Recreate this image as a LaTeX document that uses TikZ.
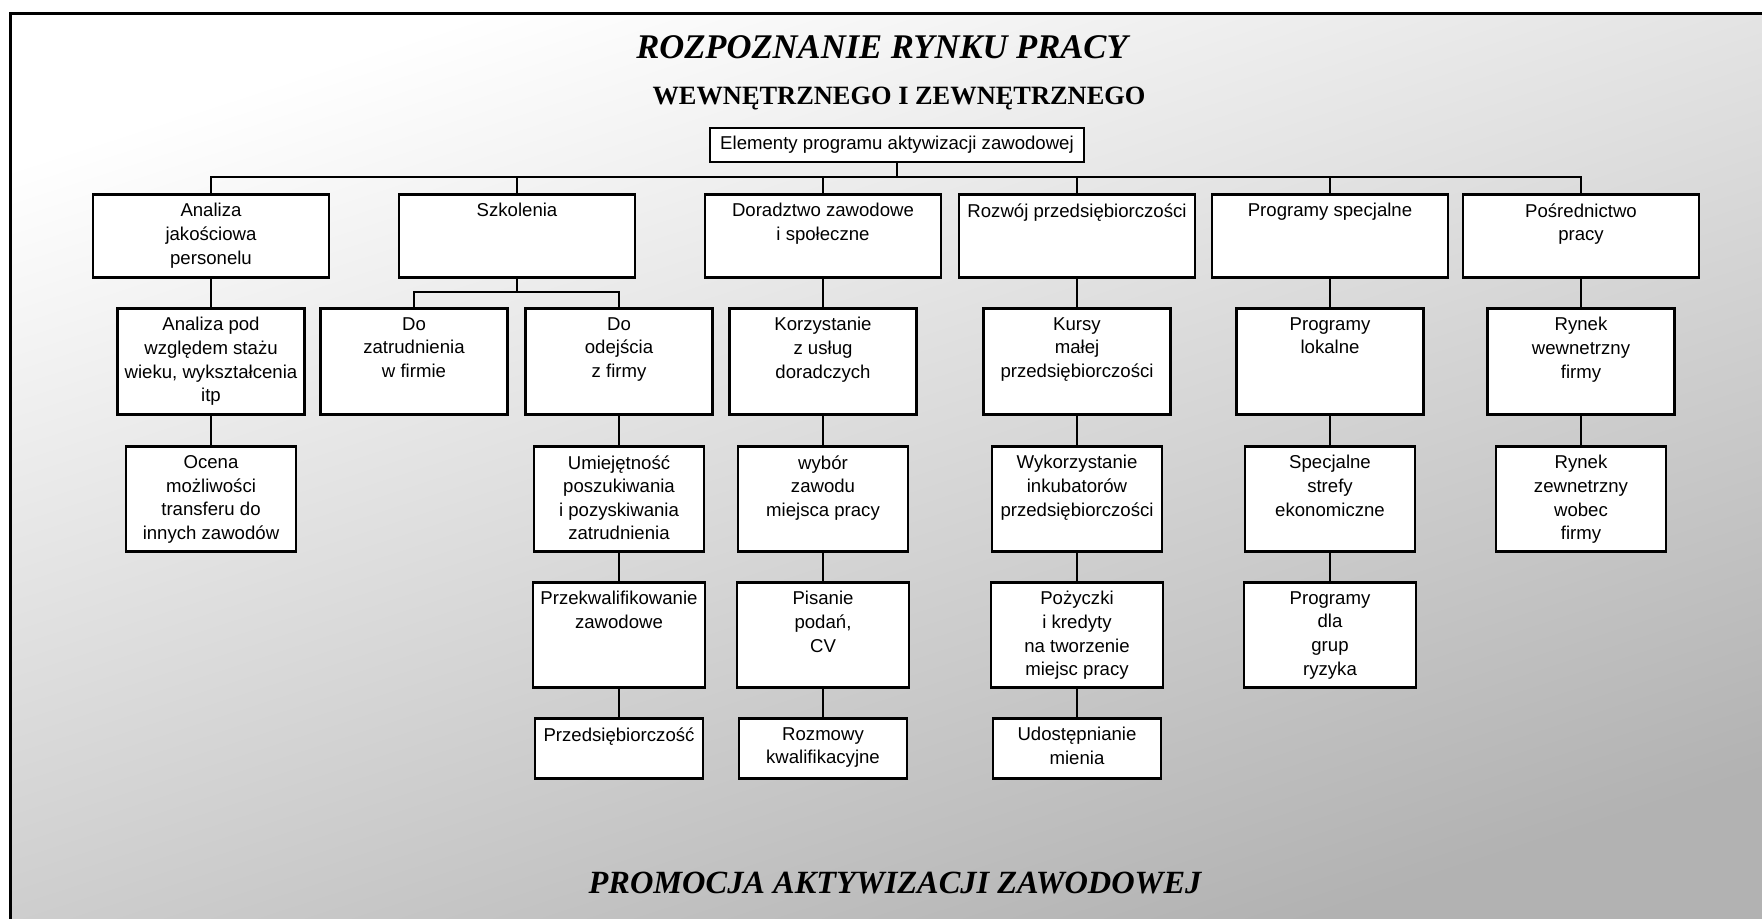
\documentclass[tikz,border=0pt]{standalone}
\usepackage{fontspec}
\setmainfont{Liberation Serif}
\newfontfamily\boxfont{Liberation Sans}
\usetikzlibrary{positioning}
\tikzset{
  main box/.style={draw,line width=1.3pt,fill=white,anchor=north,inner sep=0pt,
    minimum width=118pt,minimum height=41.5pt,label={[txt]north:#1}},
  sub box/.style={main box={#1},minimum width=93.5pt,minimum height=53pt},
  item box/.style={main box={#1},minimum width=85pt,minimum height=52.5pt},
  low box/.style={main box={#1},minimum width=86pt,minimum height=52.5pt},
  small box/.style={main box={#1},minimum width=84pt,minimum height=30pt},
  txt/.style={anchor=north,align=center,inner sep=0pt,yshift=-5pt,
    font=\boxfont\fontsize{9.3}{11.8}\selectfont},
  title/.style={inner sep=0pt,font=\fontsize{#1}{#1}\selectfont\bfseries\itshape},
  link/.style={line width=1pt},
}
\begin{document}
\begin{tikzpicture}[x=0.5pt,y=-0.5pt]
  \useasboundingbox (0,0) rectangle (1762,918);
  \fill[white] (0,0) rectangle (1762,918);
  \shade[top color=white,middle color=black!5,bottom color=black!30,shading angle=18]
    (10,13) rectangle (1762,918);
  \draw[line width=1.5pt] (10,940) -- (10,13) -- (1790,13);

  % titles
  \node[title=17.3,anchor=base] (head) at (882,58) {ROZPOZNANIE RYNKU PRACY};
  \node[inner sep=0pt,font=\fontsize{13.2}{13.2}\selectfont\bfseries,anchor=base] (subhead) at (899,104) {WEWNĘTRZNEGO I ZEWNĘTRZNEGO};
  \node[title=16.2,anchor=base] (foot) at (895,893) {PROMOCJA AKTYWIZACJI ZAWODOWEJ};

  \node[draw,line width=1.3pt,fill=white,inner sep=0pt,minimum width=187pt,minimum height=17pt,
    font=\boxfont\fontsize{9.3}{11.8}\selectfont] (root) at (897,145) {Elementy programu aktywizacji zawodowej};

  % first level
  \node[main box={Analiza\\jakościowa\\personelu}] (ana) at (211,193) {};
  \node[main box={Szkolenia}] (szk) at (517,193) {};
  \node[main box={Doradztwo zawodowe\\i społeczne}] (dor) at (823,193) {};
  \node[main box={Rozwój przedsiębiorczości}] (roz) at (1077,193) {};
  \node[main box={Programy specjalne}] (spec) at (1330,193) {};
  \node[main box={Pośrednictwo\\pracy}] (posr) at (1581,193) {};

  % second level
  \node[sub box={Analiza pod\\względem stażu\\wieku, wykształcenia\\itp}] (wiek) at (211,307) {};
  \node[sub box={Do\\zatrudnienia\\w firmie}] (zatr) at (414,307) {};
  \node[sub box={Do\\odejścia\\z firmy}] (odej) at (619,307) {};
  \node[sub box={Korzystanie\\z usług\\doradczych}] (korz) at (823,307) {};
  \node[sub box={Kursy\\małej\\przedsiębiorczości}] (kurs) at (1077,307) {};
  \node[sub box={Programy\\lokalne}] (lok) at (1330,307) {};
  \node[sub box={Rynek\\wewnetrzny\\firmy}] (wewn) at (1581,307) {};

  % third level
  \node[item box={Ocena\\możliwości\\transferu do\\innych zawodów}] (ocena) at (211,445) {};
  \node[item box={Umiejętność\\poszukiwania\\i pozyskiwania\\zatrudnienia}] (umiej) at (619,445) {};
  \node[item box={wybór\\zawodu\\miejsca pracy}] (wybor) at (823,445) {};
  \node[item box={Wykorzystanie\\inkubatorów\\przedsiębiorczości}] (inkub) at (1077,445) {};
  \node[item box={Specjalne\\strefy\\ekonomiczne}] (strefy) at (1330,445) {};
  \node[item box={Rynek\\zewnetrzny\\wobec\\firmy}] (zewn) at (1581,445) {};

  % fourth level
  \node[low box={Przekwalifikowanie\\zawodowe}] (przekw) at (619,581) {};
  \node[low box={Pisanie\\podań,\\CV}] (pisanie) at (823,581) {};
  \node[low box={Pożyczki\\i kredyty\\na tworzenie\\miejsc pracy}] (pozycz) at (1077,581) {};
  \node[low box={Programy\\dla\\grup\\ryzyka}] (ryzyko) at (1330,581) {};

  % fifth level
  \node[small box={Przedsiębiorczość}] (przeds) at (619,717) {};
  \node[small box={Rozmowy\\kwalifikacyjne}] (rozmowy) at (823,717) {};
  \node[small box={Udostępnianie\\mienia}] (mienie) at (1077,717) {};

  % connectors
  \coordinate (bus) at (897,177);
  \foreach \n in {ana,szk,dor,roz,spec,posr}
    \draw[link] (root.south) -- (bus) -| (\n.north);
  \coordinate (szkbus) at (517,292);
  \foreach \n in {zatr,odej}
    \draw[link] (szk.south) -- (szkbus) -| (\n.north);
  \foreach \a/\b in {ana/wiek,wiek/ocena,odej/umiej,umiej/przekw,przekw/przeds,
      dor/korz,korz/wybor,wybor/pisanie,pisanie/rozmowy,
      roz/kurs,kurs/inkub,inkub/pozycz,pozycz/mienie,
      spec/lok,lok/strefy,strefy/ryzyko,posr/wewn,wewn/zewn}
    \draw[link] (\a.south) -- (\b.north);
\end{tikzpicture}
\end{document}
